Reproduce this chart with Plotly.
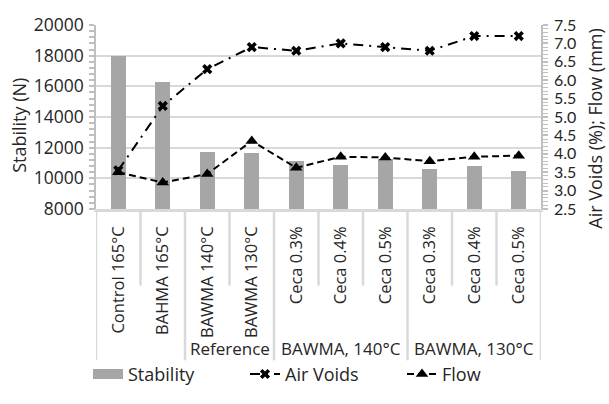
import plotly.graph_objects as go

# Mix labels, grouped under a second level of category text
mixes = ["Control 165°C", "BAHMA 165°C", "BAWMA 140°C", "BAWMA 130°C",
         "Ceca 0.3%", "Ceca 0.4%", "Ceca 0.5%",
         "Ceca 0.3%", "Ceca 0.4%", "Ceca 0.5%"]
groups = ["", "", "Reference", "Reference",
          "BAWMA, 140°C", "BAWMA, 140°C", "BAWMA, 140°C",
          "BAWMA, 130°C", "BAWMA, 130°C", "BAWMA, 130°C"]

# Marshall test results
stability_n = [18000, 16300, 11700, 11650, 11150, 10900, 11250, 10600, 10800, 10450]
air_voids_pct = [3.55, 5.3, 6.3, 6.9, 6.8, 7.0, 6.9, 6.8, 7.2, 7.2]
flow_mm = [3.5, 3.22, 3.45, 4.35, 3.62, 3.92, 3.9, 3.8, 3.92, 3.95]

FONT = "Open Sans"
TICK2_FONT = "Lato"
TXT = "#262626"
GRID = "#d9d9d9"
AXIS = "#bfbfbf"
BAR = "#a6a6a6"

W, H = 609, 404
ML, MR, MT, MB = 96, 68, 17, 190
plot_w = W - ML - MR
plot_h = H - MT - MB


def px_x(px):
    """Figure pixel column -> paper x."""
    return (px - ML) / plot_w


def px_y(py):
    """Figure pixel row -> paper y."""
    return (H - MB - py) / plot_h


pos = list(range(len(mixes)))

fig = go.Figure()

fig.add_trace(go.Bar(
    x=pos, y=stability_n, name="Stability", width=0.34,
    marker=dict(color=BAR, line=dict(width=0)),
    showlegend=False, legendgroup="stab",
))
# wide grey swatch for the stability legend entry
fig.add_trace(go.Scatter(
    x=[None], y=[None], mode="lines", name="Stability", legendgroup="stab",
    line=dict(color=BAR, width=10),
))
fig.add_trace(go.Scatter(
    x=pos, y=air_voids_pct, name="Air Voids", yaxis="y2",
    mode="lines+markers",
    line=dict(color="black", width=2, dash="10px,6px,2px,6px"),
    marker=dict(symbol="x", size=9, color="black"),
))
fig.add_trace(go.Scatter(
    x=pos, y=flow_mm, name="Flow", yaxis="y2",
    mode="lines+markers",
    line=dict(color="black", width=2, dash="7px,4px"),
    marker=dict(symbol="triangle-up", size=11, color="black"),
))

# category separators: short between mixes, long between groups
short_y = px_y(296)
long_y = px_y(376)
shapes = []
for i in range(len(mixes) + 1):
    left = groups[i - 1] if i > 0 else None
    right = groups[i] if i < len(mixes) else None
    y_end = long_y if left != right else short_y
    shapes.append(dict(type="line", xref="x", yref="paper",
                       x0=i - 0.5, x1=i - 0.5, y0=0, y1=y_end,
                       line=dict(color=GRID, width=2.5), layer="below"))

# group captions centred under their mixes
annotations = []
seen = []
for g in groups:
    if g and g not in seen:
        seen.append(g)
        idx = [i for i, gg in enumerate(groups) if gg == g]
        annotations.append(dict(
            x=(idx[0] + idx[-1]) / 2, y=px_y(363),
            xref="x", yref="paper", text=g, showarrow=False,
            font=dict(family=FONT, size=17, color=TXT),
            xanchor="center", yanchor="middle"))

# axis titles
annotations.append(dict(
    x=px_x(19), y=px_y(125), xref="paper", yref="paper",
    text="Stability (N)", textangle=-90, showarrow=False,
    font=dict(family=FONT, size=18, color=TXT),
    xanchor="center", yanchor="middle"))
annotations.append(dict(
    x=px_x(595), y=px_y(128), xref="paper", yref="paper",
    text="Air Voids (%); Flow (mm)", textangle=-90, showarrow=False,
    font=dict(family=FONT, size=18, color=TXT),
    xanchor="center", yanchor="middle"))

fig.update_layout(
    width=W, height=H,
    margin=dict(l=ML, r=MR, t=MT, b=MB),
    paper_bgcolor="white", plot_bgcolor="white",
    font=dict(family=FONT, size=17, color=TXT),
    bargap=0,
    xaxis=dict(
        range=[-0.5, len(mixes) - 0.5],
        tickmode="array", tickvals=pos, ticktext=mixes,
        tickangle=-90, ticks="", ticklabelstandoff=8,
        tickfont=dict(family=FONT, size=16.5, color=TXT),
        showgrid=False, zeroline=False,
        showline=True, linecolor=GRID, linewidth=2.5,
    ),
    yaxis=dict(
        range=[8000, 20000], dtick=2000, tickformat="d",
        showgrid=True, gridcolor=GRID, gridwidth=2,
        zeroline=False,
        showline=True, linecolor=AXIS, linewidth=1.5,
        ticks="outside", ticklen=5, tickcolor=AXIS, tickwidth=1.5,
        minor=dict(dtick=400, ticks="outside", ticklen=5,
                   tickcolor=AXIS, tickwidth=1.5, showgrid=False),
        tickfont=dict(family=FONT, size=17.5, color=TXT),
        ticklabelstandoff=2,
    ),
    yaxis2=dict(
        range=[2.5, 7.5], dtick=0.5, tickformat=".1f",
        overlaying="y", side="right",
        showgrid=False, zeroline=False,
        showline=True, linecolor=AXIS, linewidth=1.5,
        ticks="outside", ticklen=5, tickcolor=AXIS, tickwidth=1.5,
        minor=dict(dtick=0.1, ticks="outside", ticklen=5,
                   tickcolor=AXIS, tickwidth=1, showgrid=False),
        tickfont=dict(family=TICK2_FONT, size=16, color=TXT),
        ticklabelstandoff=3,
    ),
    legend=dict(
        orientation="h", x=px_x(88), xanchor="left",
        y=px_y(391), yanchor="middle",
        font=dict(family=FONT, size=18, color=TXT),
        bgcolor="rgba(0,0,0,0)",
        entrywidth=112, entrywidthmode="pixels",
    ),
    shapes=shapes,
    annotations=annotations,
)

fig.write_html("out.html")
